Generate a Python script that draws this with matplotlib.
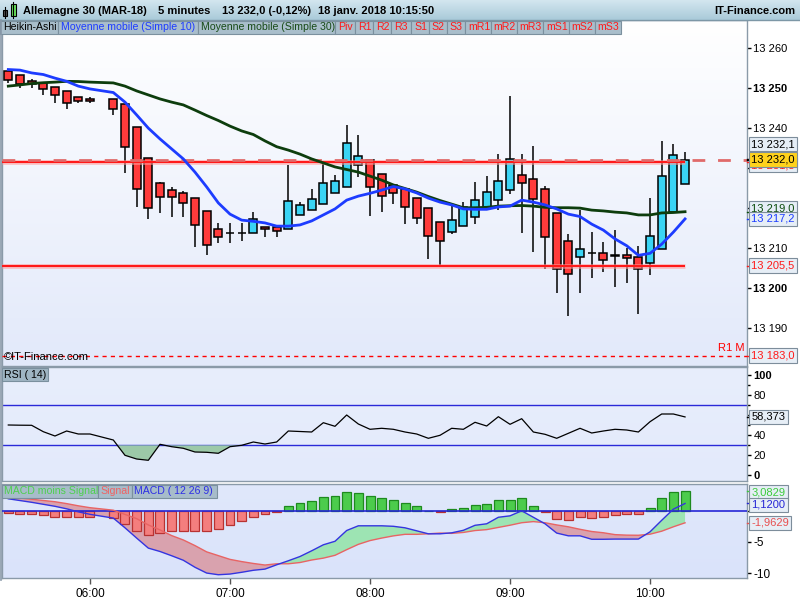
import numpy as np
import matplotlib
matplotlib.use("Agg")
import matplotlib.pyplot as plt
from matplotlib.patches import Rectangle
from matplotlib.colors import LinearSegmentedColormap
from matplotlib.transforms import blended_transform_factory

plt.rcParams['font.family'] = ['Liberation Sans', 'DejaVu Sans']

# ---------------- data ----------------
instrument = "Allemagne 30 (MAR-18)"
timeframe = "5 minutes"
change_pct = "(-0,12%)"
timestamp = "18 janv. 2018 10:15:50"

times = ["05:25", "05:30", "05:35", "05:40", "05:45", "05:50", "05:55", "06:00",
         "06:10", "06:15", "06:20", "06:25", "06:30", "06:35", "06:40", "06:45", "06:50", "06:55",
         "07:00", "07:05", "07:10", "07:15", "07:20", "07:25", "07:30", "07:35", "07:40", "07:45", "07:50", "07:55",
         "08:00", "08:05", "08:10", "08:15", "08:20", "08:25", "08:30", "08:35", "08:40", "08:45", "08:50", "08:55",
         "09:00", "09:05", "09:10", "09:15", "09:20", "09:25", "09:30", "09:35", "09:40", "09:45", "09:50", "09:55",
         "10:00", "10:05", "10:10", "10:15"]

ha_open = [13254.2, 13253.1, 13251.8, 13251.3, 13250.3, 13249.3, 13247.8, 13247.3,
           13247.1, 13245.9, 13240.3, 13232.4, 13226.1, 13224.4, 13223.6, 13222.4, 13219.1, 13214.8,
           13213.8, 13213.8, 13213.8, 13215.3, 13215.1, 13214.6, 13218.1, 13219.4, 13220.9, 13223.6, 13225.1, 13230.6,
           13231.9, 13228.4, 13225.6, 13224.6, 13222.4, 13219.9, 13216.4, 13213.9, 13215.4, 13217.6, 13219.9, 13221.9,
           13224.4, 13228.1, 13227.1, 13224.6, 13218.6, 13211.6, 13207.6, 13208.8, 13208.6, 13207.9, 13208.1, 13207.6,
           13206.1, 13209.6, 13218.9, 13225.9]
ha_close = [13251.9, 13250.9, 13250.9, 13249.6, 13248.1, 13246.3, 13246.8, 13246.8,
            13244.6, 13235.1, 13224.6, 13219.9, 13222.6, 13222.6, 13221.1, 13215.8, 13210.8, 13212.8,
            13213.8, 13213.8, 13217.1, 13214.6, 13214.1, 13221.6, 13220.6, 13222.1, 13226.1, 13226.6, 13236.1, 13232.9,
            13225.1, 13222.9, 13223.6, 13220.1, 13217.4, 13212.9, 13211.6, 13216.9, 13220.1, 13221.9, 13223.9, 13226.6,
            13232.1, 13226.1, 13222.1, 13212.6, 13204.6, 13203.4, 13209.6, 13208.8, 13206.9, 13208.3, 13207.4, 13204.6,
            13212.9, 13227.9, 13233.1, 13232.0]
ha_high = [13254.2, 13253.1, 13252.1, 13251.3, 13250.3, 13249.3, 13247.8, 13247.8,
           13247.1, 13245.9, 13240.3, 13232.4, 13226.4, 13225.3, 13224.2, 13222.4, 13219.1, 13216.1,
           13216.1, 13216.1, 13218.9, 13215.3, 13215.1, 13230.6, 13221.4, 13224.7, 13231.1, 13228.1, 13240.6, 13238.1,
           13231.9, 13228.4, 13225.6, 13224.6, 13222.4, 13219.9, 13216.4, 13220.6, 13221.4, 13226.4, 13227.9, 13233.4,
           13247.9, 13233.4, 13235.4, 13225.4, 13218.6, 13213.4, 13219.4, 13213.9, 13211.4, 13214.4, 13209.9, 13210.4,
           13222.4, 13236.6, 13235.9, 13233.9]
ha_low = [13251.3, 13249.9, 13249.9, 13248.3, 13246.3, 13244.8, 13246.3, 13246.3,
          13243.3, 13228.7, 13220.3, 13217.1, 13218.6, 13217.6, 13217.6, 13210.1, 13208.3, 13211.1,
          13211.1, 13211.6, 13213.8, 13212.6, 13212.6, 13214.6, 13218.1, 13219.4, 13220.9, 13223.6, 13225.1, 13227.6,
          13217.9, 13218.9, 13220.9, 13215.9, 13215.9, 13207.1, 13205.1, 13213.4, 13215.4, 13215.9, 13219.9, 13219.4,
          13223.4, 13213.8, 13208.9, 13204.8, 13198.6, 13192.9, 13198.6, 13202.4, 13203.9, 13200.1, 13201.1, 13193.4,
          13203.1, 13209.6, 13218.9, 13225.9]

ma10 = [13254.55, 13254.4, 13253.7, 13253.3, 13252.4, 13251.6, 13250.4, 13249.7,
        13248.8, 13246.4, 13243.2, 13239.9, 13237.2, 13234.7, 13232.2, 13228.9, 13225.2, 13221.2,
        13218.4, 13216.9, 13216.6, 13216.2, 13215.4, 13215.4, 13215.7, 13216.7, 13218.2, 13219.7, 13221.9, 13222.9,
        13223.6, 13224.4, 13225.3, 13224.7, 13223.7, 13222.4, 13221.4, 13220.7, 13219.7, 13219.6, 13219.6, 13220.2,
        13220.4, 13221.9, 13221.4, 13220.7, 13219.7, 13218.4, 13217.8, 13215.9, 13214.4, 13212.2, 13210.5, 13208.1,
        13208.6, 13210.9, 13213.9, 13217.2]
ma30 = [13250.4, 13250.7, 13251.05, 13251.25, 13251.4, 13251.6, 13251.55, 13251.4,
        13251.2, 13250.4, 13249.2, 13248.2, 13247.2, 13246.4, 13245.7, 13244.4, 13243.05, 13241.8,
        13240.4, 13239.2, 13238.3, 13236.7, 13235.25, 13234.4, 13233.4, 13232.2, 13231.2, 13230.2, 13229.55, 13228.9,
        13227.9, 13226.9, 13225.7, 13224.8, 13223.9, 13222.8, 13221.8, 13220.9, 13220.0, 13220.0, 13220.1, 13220.4,
        13220.5, 13220.55, 13220.4, 13220.1, 13220.0, 13220.0, 13219.9, 13219.4, 13219.2, 13218.9, 13218.7, 13218.2,
        13218.2, 13218.7, 13218.8, 13219.0]

rsi = [50.3, 50.1, 50.0, 43.6, 39.3, 44.3, 41.3, 41.3,
       35.3, 20.0, 16.3, 15.0, 31.0, 28.6, 27.0, 23.3, 23.0, 22.0,
       28.6, 30.0, 33.3, 31.3, 33.3, 44.3, 43.8, 43.3, 52.6, 49.0, 60.3, 51.3,
       46.0, 47.0, 46.0, 43.3, 41.3, 37.0, 40.0, 47.0, 46.0, 53.0, 49.3, 58.6,
       51.0, 56.6, 43.3, 41.0, 37.0, 42.0, 47.0, 42.3, 44.3, 46.0, 45.3, 43.3,
       53.6, 61.3, 61.3, 58.373]

macd = [1.87, 1.59, 1.31, 0.99, 0.67, 0.27, -0.21, -0.61,
        -1.21, -2.76, -4.40, -6.00, -6.54, -7.22, -7.94, -9.06, -9.98, -10.25,
        -10.14, -9.86, -9.54, -9.35, -8.66, -8.02, -7.34, -6.43, -5.47, -4.91, -3.19, -2.44,
        -2.44, -2.44, -2.52, -2.76, -3.24, -3.72, -3.72, -3.56, -3.16, -2.36, -2.12, -1.08,
        -0.85, -0.05, -1.08, -2.12, -3.60, -4.04, -4.04, -4.59, -4.59, -4.56, -4.56, -4.56,
        -3.40, -1.56, 0.22, 1.12]
signal = [2.15, 2.0, 1.8, 1.6, 1.4, 1.1, 0.75, 0.45,
          0.05, -0.62, -1.3, -2.3, -3.1, -4.0, -4.7, -5.6, -6.6, -7.2,
          -7.8, -8.15, -8.45, -8.7, -8.5, -8.5, -8.3, -7.9, -7.6, -7.15, -6.25, -5.4,
          -4.8, -4.4, -4.05, -3.8, -3.8, -3.72, -3.6, -3.65, -3.5, -3.2, -3.05, -2.7,
          -2.35, -1.95, -1.77, -1.95, -2.3, -2.6, -3.0, -3.35, -3.55, -3.85, -3.93, -3.95,
          -3.78, -3.3, -2.6, -1.9629]
hist = [-0.41, -0.58, -0.58, -0.74, -1.06, -1.06, -1.06, -1.06,
        -1.22, -2.17, -3.29, -3.92, -3.61, -3.29, -3.29, -3.29, -3.29, -2.97,
        -2.33, -1.69, -1.06, -0.58, -0.26, 0.70, 1.18, 1.50, 2.14, 2.35, 3.03, 2.87,
        2.35, 1.98, 1.66, 1.18, 0.70, 0.0, -0.26, 0.22, 0.38, 0.86, 1.02, 1.66,
        1.66, 1.98, 0.70, -0.26, -1.37, -1.53, -1.06, -1.22, -1.06, -0.74, -0.58, -0.58,
        0.38, 1.98, 2.93, 3.0829]

level_solid = [13231.5, 13205.5]
level_current = 13232.0
level_prev = 13232.1
level_r1m = 13183.0

price_ticks = [13190, 13200, 13210, 13220, 13230, 13240, 13250, 13260]
price_hidden = [13220, 13230]
rsi_ticks = [0, 20, 40, 60, 80, 100]
rsi_levels = [70, 30]
macd_ticks = [-10, -5, 0]
time_ticks = ["06:00", "07:00", "08:00", "09:00", "10:00"]

legend_items = [("Heikin-Ashi", "black"), ("Moyenne mobile (Simple 10)", "#1d3cff"),
                ("Moyenne mobile (Simple 30)", "#174a17"), ("Piv", "#ff1a1a"),
                ("R1", "#ff1a1a"), ("R2", "#ff1a1a"), ("R3", "#ff1a1a"),
                ("S1", "#ff1a1a"), ("S2", "#ff1a1a"), ("S3", "#ff1a1a"),
                ("mR1", "#ff1a1a"), ("mR2", "#ff1a1a"), ("mR3", "#ff1a1a"),
                ("mS1", "#ff1a1a"), ("mS2", "#ff1a1a"), ("mS3", "#ff1a1a")]
legend_edges = [0, 58, 198, 335, 355, 373, 391, 411, 428.7, 446.7, 465, 490.7, 516.7, 543, 568.7, 594.7, 621.3]
macd_legend = [("MACD moins Signal", "#4ed04e"), ("Signal", "#f06262"), ("MACD ( 12 26 9)", "#2e2ee6")]
macd_legend_edges = [2, 98, 132, 217]


def fr(v, dec):
    return f"{v:,.{dec}f}".replace(",", " ").replace(".", ",")


# ---------------- layout ----------------
W, H = 800, 600
fig = plt.figure(figsize=(W / 100, H / 100), dpi=100)
fig.patch.set_facecolor("white")


def rect(x0, y0, x1, y1):
    return [x0 / W, 1 - y1 / H, (x1 - x0) / W, (y1 - y0) / H]


SPINE = "#8a9aa8"
ax = fig.add_axes(rect(2, 20, 747, 366))
rax = fig.add_axes(rect(2, 367, 747, 481))
mx = fig.add_axes(rect(2, 484, 747, 578))


def tmin(s):
    h, m = s.split(":")
    return int(h) * 60 + int(m)


t0 = tmin(times[0])
xs = np.array([(tmin(t) - t0) / 5.0 for t in times])
XLIM = (-0.54, 63.31)


def gradient(a, top, bottom):
    cmap = LinearSegmentedColormap.from_list("bg", [top, bottom])
    a.imshow(np.linspace(0, 1, 256).reshape(-1, 1), extent=[0, 1, 0, 1], transform=a.transAxes,
             aspect="auto", cmap=cmap, origin="upper", zorder=0, interpolation="bilinear")


for a in (ax, rax, mx):
    for s in a.spines.values():
        s.set_color(SPINE)
        s.set_linewidth(1.0)

gradient(ax, "#ffffff", "#e2e9fa")
gradient(rax, "#e8eefc", "#e3eafb")
gradient(mx, "#e0e8fb", "#dae3fa")


def tag(a, value, text, color, fc="#e6eef6", dy_px=0.0, weight="normal"):
    tr = blended_transform_factory(a.transAxes, a.transData)
    a.annotate(text, xy=(1, value), xycoords=tr, xytext=(3.2, dy_px * 0.72), textcoords="offset points",
               ha="left", va="center", fontsize=8, color=color, fontweight=weight, annotation_clip=False,
               bbox=dict(boxstyle="square,pad=0.2", fc=fc, ec="#7d8d9b", lw=0.8), zorder=10)
    a.plot([1, 1.006], [value, value], transform=tr, color=color, lw=1, clip_on=False, zorder=9)


# ---------------- main price panel ----------------
o = np.array(ha_open)
c = np.array(ha_close)
hi = np.array(ha_high)
lo = np.array(ha_low)
body_col = np.where(c > o, "#3ad4f4", np.where(c < o, "#ff3b3b", "black"))

ax.vlines(xs, lo, hi, colors="black", lw=1.1, zorder=3)
ax.bar(xs, c - o, bottom=o, width=0.68, color=body_col, edgecolor="black", lw=1.1, zorder=4)

ax.hlines(level_solid, XLIM[0], xs[-1], colors="#ffa0a0", lw=3.4, alpha=0.6, zorder=4.5)
ax.hlines(level_solid, XLIM[0], xs[-1], colors="#ff1a1a", lw=1.5, zorder=4.6)
ax.axhline(level_current, color="#e06a6a", lw=2.0, dashes=(4.6, 4.6), zorder=4.7)
ax.axhline(level_r1m, color="#ff0000", lw=1.0, dashes=(3, 3), zorder=4.7)

ax.plot(xs, ma30, color="#0d3d0d", lw=2.0, zorder=5)
ax.plot(xs, ma10, color="#1d3cff", lw=2.0, zorder=6)

ax.set_xlim(XLIM)
ax.set_ylim(13180.43, 13266.93)
ax.set_xticks([])
ax.yaxis.tick_right()
ax.set_yticks(price_ticks)
ax.set_yticklabels(["" if v in price_hidden else fr(v, 0) for v in price_ticks])
for lbl, v in zip(ax.get_yticklabels(), price_ticks):
    if v % 50 == 0:
        lbl.set_fontweight("bold")
        lbl.set_fontsize(8.6)
ax.tick_params(axis="y", direction="out", length=3, width=1, pad=1.5, labelsize=8, colors="black")

btr = blended_transform_factory(ax.transAxes, ax.transData)
ax.text(0.997, level_r1m + 0.6, "R1 M", transform=btr, ha="right", va="bottom", color="#ff0000", fontsize=8, zorder=8)
ax.text(0.002, 9 / 346, "\u00a9IT-Finance.com", transform=ax.transAxes, ha="left", va="center", fontsize=8, zorder=8)

tag(ax, level_solid[0], fr(level_solid[0], 1), "#ff1a1a", dy_px=-3.5)
tag(ax, level_current, fr(ha_close[-1], 1), "black", fc="#ffd21c")
tag(ax, level_prev, fr(level_prev, 1), "black", dy_px=15.3)
tag(ax, ma30[-1], fr(ma30[-1], 1), "#0d4d0d", dy_px=3.5)
tag(ax, ma10[-1], fr(ma10[-1], 1), "#1d3cff")
tag(ax, level_solid[1], fr(level_solid[1], 1), "#ff1a1a")
tag(ax, level_r1m, fr(level_r1m, 1), "#ff1a1a")

# ---------------- RSI panel ----------------
r = np.array(rsi)
for lv in rsi_levels:
    rax.axhline(lv, color="#2a2ad8", lw=1.0, zorder=2)
rax.fill_between(xs, r, 30, where=r < 30, interpolate=True, color="#9cc9a8", zorder=2.5, lw=0)
rax.plot(xs, r, color="black", lw=0.9, zorder=3)
rax.set_xlim(XLIM)
rax.set_ylim(-5.7, 108.3)
rax.set_xticks([])
rax.yaxis.tick_right()
rax.set_yticks(rsi_ticks)
rax.set_yticklabels(["" if v == 60 else str(v) for v in rsi_ticks])
for lbl, v in zip(rax.get_yticklabels(), rsi_ticks):
    if v in (0, 100):
        lbl.set_fontweight("bold")
        lbl.set_fontsize(8.6)
rax.set_yticks([10, 30, 50, 70, 90], minor=True)
rax.tick_params(axis="y", which="major", direction="out", length=3, width=1, pad=1.5, labelsize=8)
rax.tick_params(axis="y", which="minor", direction="out", length=2, width=1)
tag(rax, r[-1], fr(r[-1], 3), "black")

# ---------------- MACD panel ----------------
m = np.array(macd)
s = np.array(signal)
hh = np.array(hist)
mx.fill_between(xs, m, s, where=m >= s, interpolate=True, color="#9de4b3", lw=0, zorder=1.5)
mx.fill_between(xs, m, s, where=m < s, interpolate=True, color="#d9a2ae", lw=0, zorder=1.5)
mx.bar(xs, hh, width=0.77, color=np.where(hh >= 0, "#4ccc4c", "#f47e7e"),
       edgecolor=np.where(hh >= 0, "#1e8a1e", "#b83232"), lw=0.9, zorder=3)
mx.axhline(0, color="#2626d6", lw=1.2, zorder=4)
mx.plot(xs, s, color="#e86464", lw=1.0, zorder=5)
mx.plot(xs, m, color="#3434e0", lw=1.0, zorder=6)
mx.set_xlim(XLIM)
mx.set_ylim(-10.77, 4.23)
mx.yaxis.tick_right()
mx.set_yticks(macd_ticks)
mx.set_yticklabels(["" if v == 0 else str(v) for v in macd_ticks])
mx.tick_params(axis="y", direction="out", length=3, width=1, pad=1.5, labelsize=8.5)
mx.set_xticks([(tmin(t) - t0) / 5.0 for t in time_ticks])
mx.set_xticklabels(time_ticks)
mx.tick_params(axis="x", direction="out", length=4, width=1, pad=3, labelsize=8.5, color="#555555")
tag(mx, hh[-1], fr(hh[-1], 4), "#3ccc3c", dy_px=-1.5)
tag(mx, m[-1], fr(m[-1], 4), "#2626d6", dy_px=-1.5)
tag(mx, s[-1], fr(s[-1], 4), "#e85050")

# ---------------- chrome overlay ----------------
ov = fig.add_axes([0, 0, 1, 1], zorder=20)
ov.patch.set_alpha(0)
hcmap = LinearSegmentedColormap.from_list("hdr", ["#d3e6ef", "#a9cad9"])
ov.imshow(np.linspace(0, 1, 64).reshape(-1, 1), extent=[0, W, 20, 0], cmap=hcmap, aspect="auto",
          origin="upper", interpolation="bilinear")
ov.plot([0, W], [20, 20], color="#7d97a6", lw=1)

# header icon
ov.plot([4.7, 4.7], [7.3, 18.3], color="black", lw=0.8)
ov.add_patch(Rectangle((2.7, 10), 4, 6, fc="#505050", ec="black", lw=0.8))
ov.plot([13.2, 13.2], [1.7, 18.3], color="black", lw=0.8)
ov.add_patch(Rectangle((10.7, 4), 5, 12, fc="#66e05a", ec="black", lw=0.8))

hdr = [(23, instrument), (158, timeframe), (222, fr(ha_close[-1], 1) + " " + change_pct), (318, timestamp)]
for x0, txt in hdr:
    ov.text(x0, 11.5, txt, fontsize=8, fontweight="bold", va="center", ha="left")
ov.text(795, 11.5, "IT-Finance.com", fontsize=8, fontweight="bold", va="center", ha="right")

for (lab, col), x0, x1 in zip(legend_items, legend_edges[:-1], legend_edges[1:]):
    ov.add_patch(Rectangle((x0, 20.5), x1 - x0, 13, fc="#a9becb", ec="#7b909e", lw=0.8))
    ov.text(x0 + 3, 27.3, lab, color=col, fontsize=7.6, va="center", ha="left")

ov.add_patch(Rectangle((2, 367.5), 46, 13.5, fc="#9fb5c3", ec="#7b909e", lw=0.8))
ov.text(4, 374.5, "RSI ( 14)", color="black", fontsize=7.6, va="center", ha="left")

for (lab, col), x0, x1 in zip(macd_legend, macd_legend_edges[:-1], macd_legend_edges[1:]):
    ov.add_patch(Rectangle((x0, 484.5), x1 - x0, 13.5, fc="#a7bcca", ec="#7b909e", lw=0.8))
    ov.text(x0 + 2, 491.5, lab, color=col, fontsize=7.6, va="center", ha="left")

ov.plot([0.8, 0.8], [20, 580], color="#8898a8", lw=1.2)
ov.set_xlim(0, W)
ov.set_ylim(H, 0)
ov.axis("off")

fig.savefig("out.png", dpi=100)
